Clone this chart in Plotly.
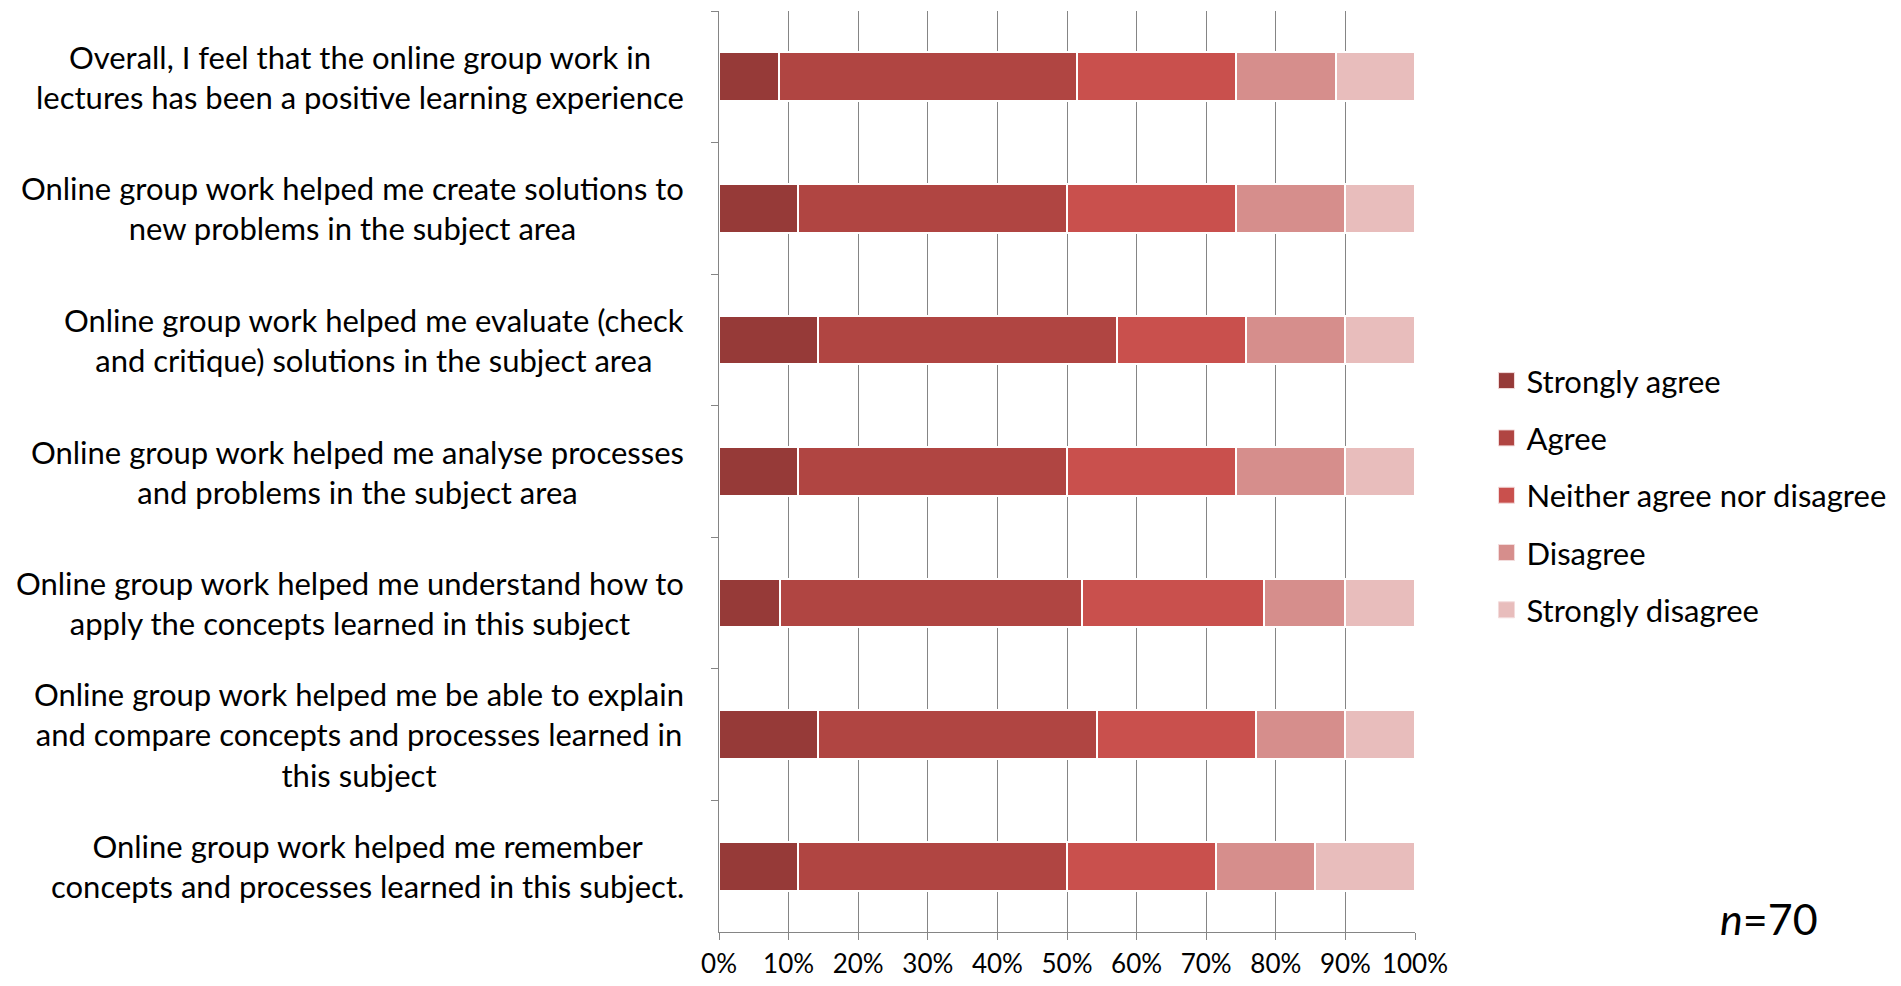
import plotly.graph_objects as go

statements = [
    "Overall, I feel that the online group work in<br>lectures has been a positive learning experience",
    "Online group work helped me create solutions to<br>new problems in the subject area",
    "Online group work helped me evaluate (check<br>and critique) solutions in the subject area",
    "Online group work helped me analyse processes<br>and problems in the subject area",
    "Online group work helped me understand how to<br>apply the concepts learned in this subject",
    "Online group work helped me be able to explain<br>and compare concepts and processes learned in<br>this subject",
    "Online group work helped me remember<br>concepts and processes learned in this subject.",
]
cat_ids = ["Q1", "Q2", "Q3", "Q4", "Q5", "Q6", "Q7"]

responses = ["Strongly agree", "Agree", "Neither agree nor disagree", "Disagree", "Strongly disagree"]
strongly_agree = [8.6, 11.4, 14.3, 11.4, 8.7, 14.3, 11.4]
agree = [42.9, 38.6, 42.9, 38.6, 43.5, 40.0, 38.6]
neither = [22.9, 24.3, 18.6, 24.3, 26.1, 22.9, 21.4]
disagree = [14.3, 15.7, 14.3, 15.7, 11.6, 12.9, 14.3]
strongly_disagree = [11.4, 10.0, 10.0, 10.0, 10.1, 10.0, 14.3]
series = [strongly_agree, agree, neither, disagree, strongly_disagree]
colors = ["#963a38", "#b04542", "#c9504d", "#d68e8c", "#e8bdbc"]

x_ticks = [0, 10, 20, 30, 40, 50, 60, 70, 80, 90, 100]
x_labels = [f"{t}%" for t in x_ticks]

FONT = "Lato"

fig = go.Figure()
for name, vals, col in zip(responses, series, colors):
    fig.add_trace(go.Bar(
        y=cat_ids, x=vals, name=name, orientation="h",
        showlegend=False,
        marker=dict(color=col, line=dict(color="white", width=2)),
    ))
# legend entries (square swatches)
for name, col in zip(responses, colors):
    fig.add_trace(go.Scatter(
        x=[None], y=[None], mode="markers", name=name, legendgroup=name,
        marker=dict(symbol="square", size=16, color=col,
                    line=dict(color="#f3dcdc", width=1)),
    ))

for cid, txt in zip(cat_ids, statements):
    fig.add_annotation(
        x=-0.047, xref="paper", y=cid, yref="y",
        text=txt,
        showarrow=False, xanchor="right", yanchor="middle", align="center",
        font=dict(family=FONT, size=31, color="black"),
    )

fig.add_annotation(
    x=1.509, xref="paper", y=0.015, yref="paper",
    text="<i>n</i>=70", showarrow=False, xanchor="center", yanchor="middle",
    font=dict(family=FONT, size=43, color="black"),
)

fig.update_layout(
    width=1890, height=970,
    barmode="stack", barnorm="percent", bargap=0.63,
    paper_bgcolor="white", plot_bgcolor="white",
    margin=dict(l=711, r=482.5, t=3, b=46, autoexpand=False),
    font=dict(family=FONT, size=26, color="black"),
    showlegend=True,
    legend=dict(
        x=1.1027, xanchor="left", y=0.474, yanchor="middle",
        traceorder="grouped", tracegroupgap=14,
        font=dict(family=FONT, size=31, color="black"),
        bgcolor="rgba(0,0,0,0)",
    ),
    xaxis=dict(
        range=[0, 100], tickvals=x_ticks, ticktext=x_labels,
        showgrid=True, gridcolor="#858585", gridwidth=1,
        showline=True, linecolor="#858585", linewidth=1,
        ticks="outside", ticklen=7, tickcolor="#858585",
        ticklabelstandoff=2,
        zeroline=False, tickfont=dict(family=FONT, size=26),
    ),
    yaxis=dict(
        categoryorder="array", categoryarray=cat_ids, autorange="reversed",
        showticklabels=False, tickson="boundaries",
        ticks="outside", ticklen=7, tickcolor="#858585",
        showline=True, linecolor="#858585", linewidth=1,
        showgrid=False, zeroline=False,
    ),
)

fig.write_html("out.html")
